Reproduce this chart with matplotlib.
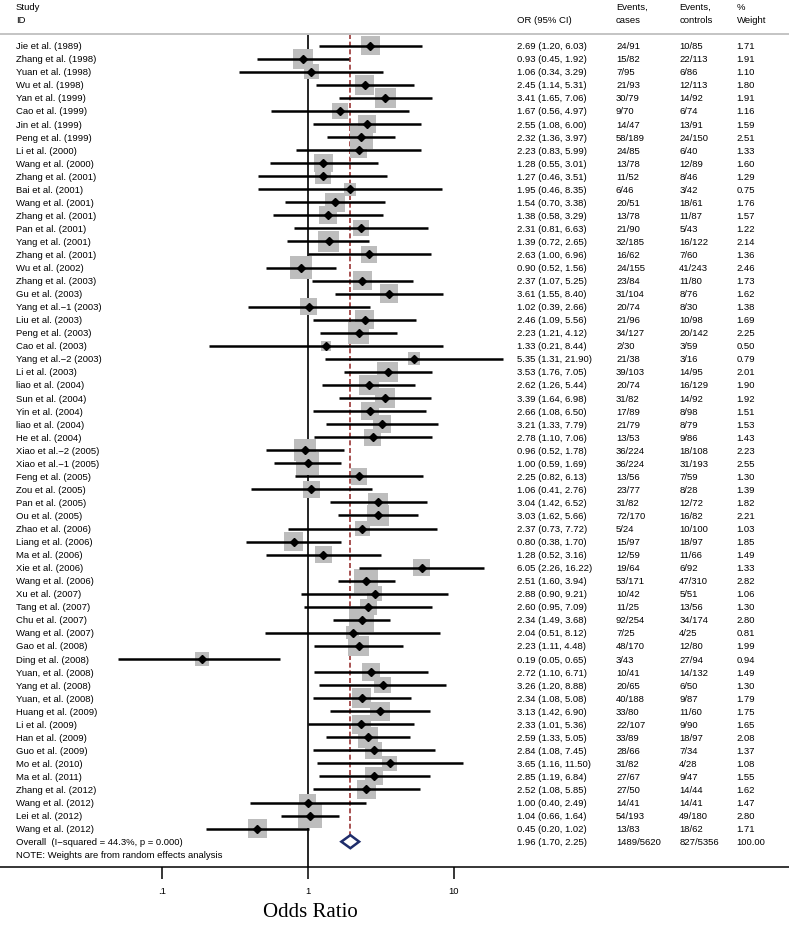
import matplotlib
matplotlib.use("Agg")
import matplotlib.pyplot as plt
from matplotlib import font_manager
from matplotlib.ticker import NullLocator

studies = [
    "Jie et al. (1989)", "Zhang et al. (1998)", "Yuan et al. (1998)", "Wu et al. (1998)",
    "Yan et al. (1999)", "Cao et al. (1999)", "Jin et al. (1999)", "Peng et al. (1999)",
    "Li et al. (2000)", "Wang et al. (2000)", "Zhang et al. (2001)", "Bai et al. (2001)",
    "Wang et al. (2001)", "Zhang et al. (2001)", "Pan et al. (2001)", "Yang et al. (2001)",
    "Zhang et al. (2001)", "Wu et al. (2002)", "Zhang et al. (2003)", "Gu et al. (2003)",
    "Yang et al.\u22121 (2003)", "Liu et al. (2003)", "Peng et al. (2003)", "Cao et al. (2003)",
    "Yang et al.\u22122 (2003)", "Li et al. (2003)", "liao et al. (2004)", "Sun et al. (2004)",
    "Yin et al. (2004)", "liao et al. (2004)", "He et al. (2004)", "Xiao et al.\u22122 (2005)",
    "Xiao et al.\u22121 (2005)", "Feng et al. (2005)", "Zou et al. (2005)", "Pan et al. (2005)",
    "Ou et al. (2005)", "Zhao et al. (2006)", "Liang et al. (2006)", "Ma et al. (2006)",
    "Xie et al. (2006)", "Wang et al. (2006)", "Xu et al. (2007)", "Tang et al. (2007)",
    "Chu et al. (2007)", "Wang et al. (2007)", "Gao et al. (2008)", "Ding et al. (2008)",
    "Yuan, et al. (2008)", "Yang et al. (2008)", "Yuan, et al. (2008)", "Huang et al. (2009)",
    "Li et al. (2009)", "Han et al. (2009)", "Guo et al. (2009)", "Mo et al. (2010)",
    "Ma et al. (2011)", "Zhang et al. (2012)", "Wang et al. (2012)", "Lei et al. (2012)",
    "Wang et al. (2012)",
]
odds = [2.69, 0.93, 1.06, 2.45, 3.41, 1.67, 2.55, 2.32, 2.23, 1.28, 1.27, 1.95, 1.54, 1.38,
        2.31, 1.39, 2.63, 0.90, 2.37, 3.61, 1.02, 2.46, 2.23, 1.33, 5.35, 3.53, 2.62, 3.39,
        2.66, 3.21, 2.78, 0.96, 1.00, 2.25, 1.06, 3.04, 3.03, 2.37, 0.80, 1.28, 6.05, 2.51,
        2.88, 2.60, 2.34, 2.04, 2.23, 0.19, 2.72, 3.26, 2.34, 3.13, 2.33, 2.59, 2.84, 3.65,
        2.85, 2.52, 1.00, 1.04, 0.45]
ci_low = [1.20, 0.45, 0.34, 1.14, 1.65, 0.56, 1.08, 1.36, 0.83, 0.55, 0.46, 0.46, 0.70, 0.58,
          0.81, 0.72, 1.00, 0.52, 1.07, 1.55, 0.39, 1.09, 1.21, 0.21, 1.31, 1.76, 1.26, 1.64,
          1.08, 1.33, 1.10, 0.52, 0.59, 0.82, 0.41, 1.42, 1.62, 0.73, 0.38, 0.52, 2.26, 1.60,
          0.90, 0.95, 1.49, 0.51, 1.11, 0.05, 1.10, 1.20, 1.08, 1.42, 1.01, 1.33, 1.08, 1.16,
          1.19, 1.08, 0.40, 0.66, 0.20]
ci_high = [6.03, 1.92, 3.29, 5.31, 7.06, 4.97, 6.00, 3.97, 5.99, 3.01, 3.51, 8.35, 3.38, 3.29,
           6.63, 2.65, 6.96, 1.56, 5.25, 8.40, 2.66, 5.56, 4.12, 8.44, 21.90, 7.05, 5.44, 6.98,
           6.50, 7.79, 7.06, 1.78, 1.69, 6.13, 2.76, 6.52, 5.66, 7.72, 1.70, 3.16, 16.22, 3.94,
           9.21, 7.09, 3.68, 8.12, 4.48, 0.65, 6.71, 8.88, 5.08, 6.90, 5.36, 5.05, 7.45, 11.50,
           6.84, 5.85, 2.49, 1.64, 1.02]
events_cases = ["24/91", "15/82", "7/95", "21/93", "30/79", "9/70", "14/47", "58/189", "24/85",
                "13/78", "11/52", "6/46", "20/51", "13/78", "21/90", "32/185", "16/62", "24/155",
                "23/84", "31/104", "20/74", "21/96", "34/127", "2/30", "21/38", "39/103", "20/74",
                "31/82", "17/89", "21/79", "13/53", "36/224", "36/224", "13/56", "23/77", "31/82",
                "72/170", "5/24", "15/97", "12/59", "19/64", "53/171", "10/42", "11/25", "92/254",
                "7/25", "48/170", "3/43", "10/41", "20/65", "40/188", "33/80", "22/107", "33/89",
                "28/66", "31/82", "27/67", "27/50", "14/41", "54/193", "13/83"]
events_controls = ["10/85", "22/113", "6/86", "12/113", "14/92", "6/74", "13/91", "24/150", "6/40",
                   "12/89", "8/46", "3/42", "18/61", "11/87", "5/43", "16/122", "7/60", "41/243",
                   "11/80", "8/76", "8/30", "10/98", "20/142", "3/59", "3/16", "14/95", "16/129",
                   "14/92", "8/98", "8/79", "9/86", "18/108", "31/193", "7/59", "8/28", "12/72",
                   "16/82", "10/100", "18/97", "11/66", "6/92", "47/310", "5/51", "13/56", "34/174",
                   "4/25", "12/80", "27/94", "14/132", "6/50", "9/87", "11/60", "9/90", "18/97",
                   "7/34", "4/28", "9/47", "14/44", "14/41", "49/180", "18/62"]
weights = [1.71, 1.91, 1.10, 1.80, 1.91, 1.16, 1.59, 2.51, 1.33, 1.60, 1.29, 0.75, 1.76, 1.57,
           1.22, 2.14, 1.36, 2.46, 1.73, 1.62, 1.38, 1.69, 2.25, 0.50, 0.79, 2.01, 1.90, 1.92,
           1.51, 1.53, 1.43, 2.23, 2.55, 1.30, 1.39, 1.82, 2.21, 1.03, 1.85, 1.49, 1.33, 2.82,
           1.06, 1.30, 2.80, 0.81, 1.99, 0.94, 1.49, 1.30, 1.79, 1.75, 1.65, 2.08, 1.37, 1.08,
           1.55, 1.62, 1.47, 2.80, 1.71]

overall_label = "Overall  (I\u2212squared = 44.3%, p = 0.000)"
overall_or, overall_lo, overall_hi = 1.96, 1.70, 2.25
overall_cases, overall_controls, overall_weight = "1489/5620", "827/5356", 100.00
note = "NOTE: Weights are from random effects analysis"

# font: a narrow sans if it is there
try:
    font_manager.findfont("Liberation Sans Narrow", fallback_to_default=False)
    fam, fs = "Liberation Sans Narrow", 8.1
except ValueError:
    fam, fs = "Liberation Sans", 6.8
plt.rcParams["font.family"] = fam

W, H = 789, 928
fig = plt.figure(figsize=(W / 100, H / 100), dpi=100)
ax = fig.add_axes([0, 1 - 868 / H, 1, 868 / H])

ax.set_xscale("log")
ax.set_xlim(10 ** (-307.7 / 146), 10 ** ((W - 307.7) / 146))
ax.set_ylim(62.94, -3.58)

n = len(studies)
rows = list(range(n))
overall_row = n
hdr_line = -0.86

# boxes, CI lines, point markers
ax.scatter(odds, rows, s=[109 * w for w in weights], marker="s", color="#bdbdbd",
           linewidths=0, zorder=2)
ax.hlines(rows, ci_low, ci_high, color="black", lw=1.8, zorder=3)
ax.plot(odds, rows, "D", color="black", ms=4.3, zorder=4)

# reference lines
ax.vlines(1, hdr_line, 62.94, color="black", lw=1.2, zorder=1)
ax.vlines(overall_or, hdr_line, overall_row - 0.5, color="#9a3535", lw=1.2,
          linestyles=(0, (3, 1.6)), zorder=1)
ax.axhline(hdr_line, color="#c4c4c4", lw=1.4)

# overall diamond
ax.fill([overall_lo, overall_or, overall_hi, overall_or],
        [overall_row, overall_row - 0.5, overall_row, overall_row + 0.5],
        facecolor="white", edgecolor="#1f2d6b", lw=1.8, zorder=5)

# axis styling
for side in ["top", "left", "right"]:
    ax.spines[side].set_visible(False)
ax.spines["bottom"].set_linewidth(1.1)
ax.set_xticks([0.1, 1, 10])
ax.set_xticklabels([".1", "1", "10"])
ax.xaxis.set_minor_locator(NullLocator())
ax.tick_params(axis="x", length=8.6, width=1.1, pad=5, labelsize=fs)
ax.set_yticks([])

# table text
tr = ax.get_yaxis_transform()
col_id, col_or, col_ca, col_co, col_w = 16 / W, 516.7 / W, 616 / W, 679.3 / W, 736.7 / W

hdr = [(col_id, "Study", "ID"), (col_or, "", "OR (95% CI)"), (col_ca, "Events,", "cases"),
       (col_co, "Events,", "controls"), (col_w, "%", "Weight")]
for x, top, bottom in hdr:
    ax.text(x, -3.0, top, transform=tr, fontsize=fs, va="center")
    ax.text(x, -2.0, bottom, transform=tr, fontsize=fs, va="center")

for i in rows:
    ax.text(col_id, i, studies[i], transform=tr, fontsize=fs, va="center")
    ax.text(col_or, i, f"{odds[i]:.2f} ({ci_low[i]:.2f}, {ci_high[i]:.2f})",
            transform=tr, fontsize=fs, va="center")
    ax.text(col_ca, i, events_cases[i], transform=tr, fontsize=fs, va="center")
    ax.text(col_co, i, events_controls[i], transform=tr, fontsize=fs, va="center")
    ax.text(col_w, i, f"{weights[i]:.2f}", transform=tr, fontsize=fs, va="center")

ax.text(col_id, overall_row, overall_label, transform=tr, fontsize=fs, va="center")
ax.text(col_or, overall_row, f"{overall_or:.2f} ({overall_lo:.2f}, {overall_hi:.2f})",
        transform=tr, fontsize=fs, va="center")
ax.text(col_ca, overall_row, overall_cases, transform=tr, fontsize=fs, va="center")
ax.text(col_co, overall_row, overall_controls, transform=tr, fontsize=fs, va="center")
ax.text(col_w, overall_row, f"{overall_weight:.2f}", transform=tr, fontsize=fs, va="center")
ax.text(col_id, overall_row + 1, note, transform=tr, fontsize=fs, va="center")

fig.text(310 / W, 1 - 913 / H, "Odds Ratio", fontsize=15, family="Liberation Serif",
         ha="center", va="center")

fig.savefig("out.png", dpi=100)
